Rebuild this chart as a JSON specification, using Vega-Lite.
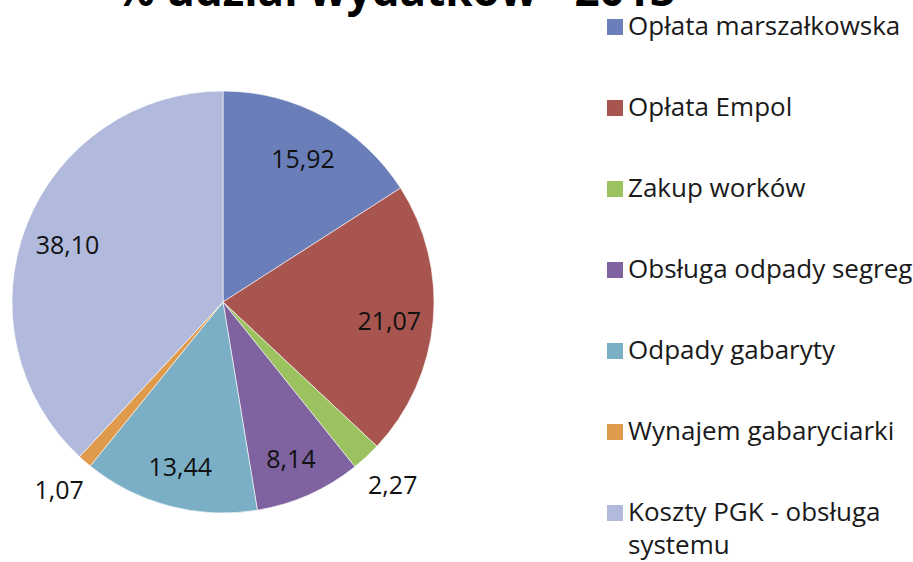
{
  "$schema": "https://vega.github.io/schema/vega-lite/v6.json",
  "autosize": "none",
  "width": 446,
  "height": 422,
  "padding": {"left": 0, "top": 91, "right": 467, "bottom": 49},
  "background": "white",
  "title": {
    "text": "% udział wydatków - 2013",
    "font": "Open Sans",
    "fontSize": 44,
    "fontWeight": "bold",
    "color": "#000000",
    "anchor": "middle",
    "baseline": "alphabetic",
    "offset": -36,
    "dx": 172
  },
  "config": {
    "style": {"guide-label": {"lineHeight": 33}}
  },
  "data": {
    "values": [
      {"kategoria": "Opłata marszałkowska", "wartosc": 15.92, "etykieta": "15,92", "kolejnosc": 1},
      {"kategoria": "Opłata Empol", "wartosc": 21.07, "etykieta": "21,07", "kolejnosc": 2},
      {"kategoria": "Zakup worków", "wartosc": 2.27, "etykieta": "2,27", "kolejnosc": 3},
      {"kategoria": "Obsługa odpady segreg", "wartosc": 8.14, "etykieta": "8,14", "kolejnosc": 4},
      {"kategoria": "Odpady gabaryty", "wartosc": 13.44, "etykieta": "13,44", "kolejnosc": 5},
      {"kategoria": "Wynajem gabaryciarki", "wartosc": 1.07, "etykieta": "1,07", "kolejnosc": 6},
      {"kategoria": "Koszty PGK - obsługa systemu", "wartosc": 38.10, "etykieta": "38,10", "kolejnosc": 7}
    ]
  },
  "encoding": {
    "theta": {"field": "wartosc", "type": "quantitative", "stack": true},
    "order": {"field": "kolejnosc", "type": "quantitative"}
  },
  "layer": [
    {
      "mark": {"type": "arc", "outerRadius": 211, "stroke": "#ffffff", "strokeWidth": 0.6},
      "encoding": {
        "color": {
          "field": "kategoria",
          "type": "nominal",
          "scale": {
            "domain": ["Opłata marszałkowska", "Opłata Empol", "Zakup worków", "Obsługa odpady segreg", "Odpady gabaryty", "Wynajem gabaryciarki", "Koszty PGK - obsługa systemu"],
            "range": ["#6A7FBA", "#A8554F", "#9CC15F", "#7E63A0", "#7AAFC6", "#DF9A4C", "#B1BADD"]
          },
          "sort": null,
          "legend": {
            "title": null,
            "orient": "none",
            "legendX": 602,
            "legendY": -77,
            "padding": 0,
            "symbolType": "square",
            "symbolSize": 256,
            "symbolStrokeWidth": 0,
            "labelFont": "Open Sans",
            "labelFontSize": 26,
            "labelColor": "#1a1a1a",
            "labelOffset": 0,
            "labelLimit": 400,
            "rowPadding": 55,
            "labelExpr": "datum.label == 'Koszty PGK - obsługa systemu' ? ['Koszty PGK - obsługa', 'systemu'] : datum.label"
          }
        }
      }
    },
    {
      "mark": {"type": "text", "radius": 167, "dy": 5, "font": "Open Sans", "fontSize": 25, "color": "#111111"},
      "encoding": {
        "text": {"condition": {"test": "datum.wartosc >= 5", "field": "etykieta"}, "value": ""}
      }
    },
    {
      "mark": {"type": "text", "radius": 250, "font": "Open Sans", "fontSize": 25, "color": "#111111"},
      "encoding": {
        "text": {"condition": {"test": "datum.wartosc < 5", "field": "etykieta"}, "value": ""}
      }
    }
  ]
}
